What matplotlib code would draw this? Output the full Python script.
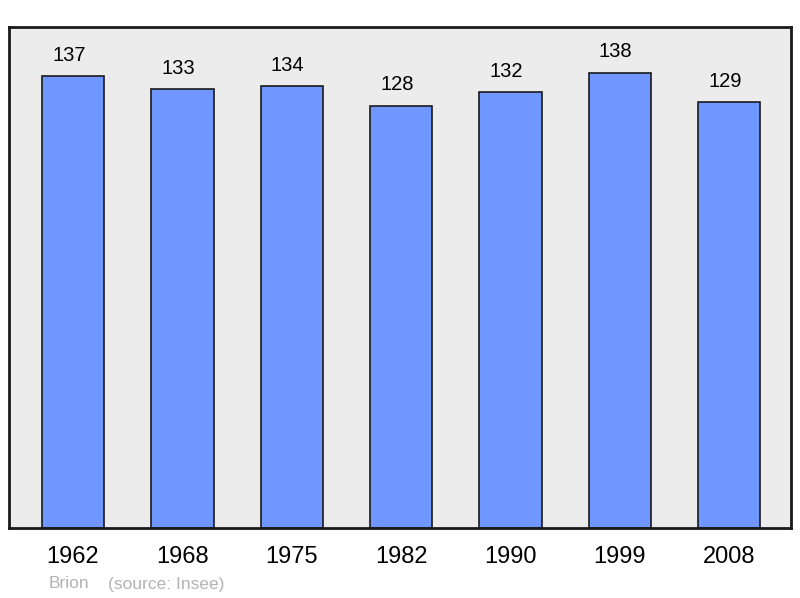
import matplotlib.pyplot as plt

plt.rcParams['font.family'] = ['Liberation Sans', 'DejaVu Sans']

years = ['1962', '1968', '1975', '1982', '1990', '1999', '2008']
population = [137, 133, 134, 128, 132, 138, 129]
town = 'Brion'
source = '(source: Insee)'

fig = plt.figure(figsize=(8, 5.98), dpi=100)
ax = fig.add_axes([9 / 800, 70 / 598, 782 / 800, 501 / 598])
ax.set_facecolor('#ececec')

x = range(len(years))
ax.bar(x, population, width=0.57, color='#7097ff', edgecolor='#1a1a1a',
       linewidth=1.2, zorder=2)
for xi, v in zip(x, population):
    ax.annotate(str(v), (xi, v), xytext=(-3, 8), textcoords='offset points',
                ha='center', va='bottom', fontsize=14.5)

ax.set_xlim(-0.585, len(years) - 1 + 0.565)
ax.set_ylim(0, max(population) * 1.1)
ax.set_yticks([])
ax.set_xticks(list(x))
ax.set_xticklabels(years, fontsize=17)
ax.tick_params(axis='x', length=0, pad=13)
for s in ax.spines.values():
    s.set_linewidth(2)
    s.set_color('#1a1a1a')

fig.text(49 / 800, 1 - 584 / 598, town, color='#b3b3b3', fontsize=12.5, va='center')
fig.text(108 / 800, 1 - 584 / 598, source, color='#b3b3b3', fontsize=12.5, va='center')

fig.savefig('out.png', dpi=100)
